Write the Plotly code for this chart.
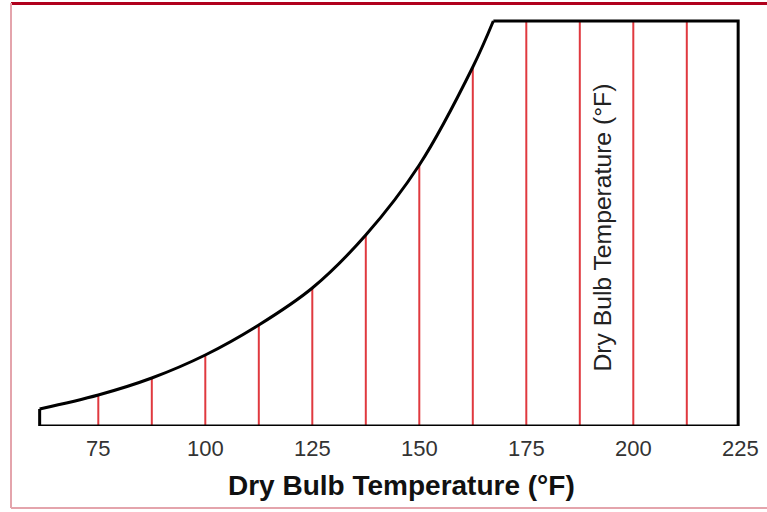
import plotly.graph_objects as go

# ---- data ----
# Curve: dry bulb temperature (°F) vs relative height (px units above baseline)
curve_x = [61.3, 75, 87.5, 100, 112.5, 125, 137.5, 150, 162.5, 167.3]
curve_y = [17, 31, 48, 71, 101, 138, 191, 261, 359, 405]
x_left = 61.3
x_right = 224.5
y_top = 405

# vertical red lines (dry bulb temperature lines) and their heights
red_x = [75, 87.5, 100, 112.5, 125, 137.5, 150, 162.5, 175, 187.5, 200, 212.5]
red_h = [31, 48, 71, 101, 138, 191, 261, 359, 405, 405, 405, 405]

tick_vals = [75, 100, 125, 150, 175, 200, 225]
tick_text = ["75", "100", "125", "150", "175", "200", "225"]

x_title = "Dry Bulb Temperature (°F)"
inner_label = "Dry Bulb Temperature (°F)"
inner_label_pos = (192.7, 198.5)

# ---- figure ----
W, H = 767, 512
L, R, T, B = 30, 17, 10, 86
FONT = "Liberation Sans, Arial, sans-serif"
fig = go.Figure()

# red lines
rx, ry = [], []
for xv, hv in zip(red_x, red_h):
    rx += [xv, xv, None]
    ry += [0, hv, None]
fig.add_trace(go.Scatter(x=rx, y=ry, mode="lines",
                         line=dict(color="#e0393f", width=2),
                         hoverinfo="skip", showlegend=False, cliponaxis=False))

# black outline: straight parts
ox = [curve_x[-1], x_right, x_right, x_left, x_left]
oy = [y_top, y_top, 0, 0, curve_y[0]]
fig.add_trace(go.Scatter(x=ox, y=oy, mode="lines",
                         line=dict(color="#000000", width=3),
                         hoverinfo="skip", showlegend=False, cliponaxis=False))
# black outline: curve
fig.add_trace(go.Scatter(x=curve_x, y=curve_y, mode="lines",
                         line=dict(color="#000000", width=3, shape="spline", smoothing=1.0),
                         hoverinfo="skip", showlegend=False, cliponaxis=False))

fig.add_annotation(x=inner_label_pos[0], y=inner_label_pos[1], text=inner_label,
                   textangle=-90, showarrow=False,
                   font=dict(family=FONT, size=24.7, color="#222222"))

# frame of the picture
pw = W - L - R
ph = H - T - B
def px(v):
    return (v - L) / pw
def py(v):
    return (H - B - v) / ph

# x-axis title (bold, centred under the chart as in the original)
fig.add_annotation(xref="paper", yref="paper", x=px(401.5), y=py(485),
                   xanchor="center", yanchor="middle", showarrow=False,
                   text="<b>" + x_title + "</b>",
                   font=dict(family=FONT, size=28, color="#111111"))

fig.add_shape(type="line", xref="paper", yref="paper",
              x0=px(11), x1=px(767), y0=py(3.5), y1=py(3.5),
              line=dict(color="#b0001c", width=3))
fig.add_shape(type="line", xref="paper", yref="paper",
              x0=px(11), x1=px(11), y0=py(3), y1=py(508),
              line=dict(color="#e4a4ac", width=2))
fig.add_shape(type="line", xref="paper", yref="paper",
              x0=px(11), x1=px(767), y0=py(508), y1=py(508),
              line=dict(color="#e4a4ac", width=2))

x0 = 75 - (98.3 - L) / 4.28
x1 = 75 + (W - R - 98.3) / 4.28
fig.update_xaxes(range=[x0, x1], tickvals=tick_vals, ticktext=tick_text,
                 showgrid=False, zeroline=False, showline=False, automargin=False,
                 ticks="outside", ticklen=3, tickcolor="rgba(0,0,0,0)",
                 tickfont=dict(family=FONT, size=22, color="#333333"))
fig.update_yaxes(range=[0, ph], showgrid=False, zeroline=False, showline=False,
                 showticklabels=False, ticks="", automargin=False)

fig.update_layout(width=W, height=H, margin=dict(l=L, r=R, t=T, b=B),
                  paper_bgcolor="white", plot_bgcolor="white")

fig.write_html("out.html", config={"displayModeBar": False},
               post_script="document.body.style.margin='0';document.body.style.overflow='hidden';")
